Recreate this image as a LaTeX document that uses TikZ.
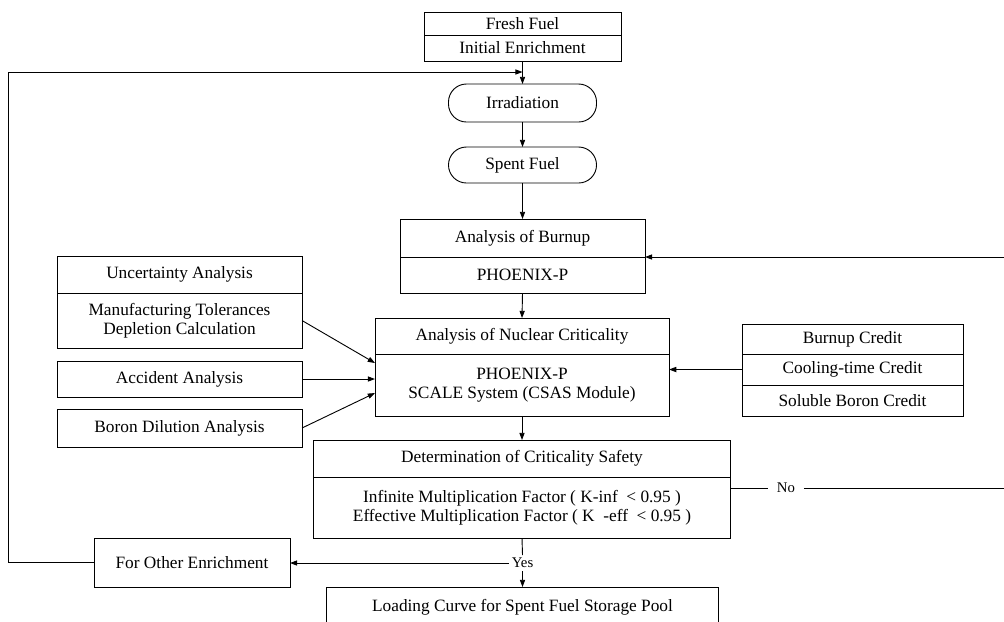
\documentclass[tikz,border=0pt]{standalone}
\usepackage{fontspec}
\setmainfont{Liberation Serif}
\usetikzlibrary{arrows.meta, positioning}

\begin{document}
\begin{tikzpicture}[
  x=0.025cm,
  y=-0.025cm,
  font=\rmfamily\fontsize{12.3}{13.5}\selectfont,
  box/.style={
    draw,
    rectangle,
    align=center,
    inner sep=0pt,
    outer sep=0pt,
    line width=0.65pt
  },
  oval/.style={
    box,
    rounded corners=0.45cm
  },
  arrow/.style={
    -{Triangle[length=0.18cm,width=0.13cm]},
    line width=0.65pt
  },
  line/.style={
    line width=0.65pt
  },
  tag/.style={
    fill=white,
    inner xsep=6pt,
    inner ysep=2pt,
    font=\rmfamily\fontsize{10.5}{12}\selectfont
  }
]
\useasboundingbox (0,0) rectangle (1004,621);

% Nodes
\node[box, minimum width=4.925cm, minimum height=0.575cm] (fresh) at (522.5,23.5) {Fresh Fuel};
\node[box, minimum width=4.925cm, minimum height=0.65cm, below=0pt of fresh] (enrich) {Initial Enrichment};
\node[oval, minimum width=3.7cm, minimum height=0.95cm] (irrad) at (522.5,103) {Irradiation};
\node[oval, minimum width=3.7cm, minimum height=0.9cm] (spent) at (522.5,165) {Spent Fuel};
\node[box, minimum width=6.125cm, minimum height=0.95cm] (burnup) at (522.5,238) {Analysis of Burnup};
\node[box, minimum width=6.125cm, minimum height=0.9cm, below=0pt of burnup] (burnupcode) {PHOENIX-P};
\node[box, minimum width=7.35cm, minimum height=0.9cm] (nuclear) at (522,336) {Analysis of Nuclear Criticality};
\node[box, minimum width=7.35cm, minimum height=1.55cm, below=0pt of nuclear] (nuclearcode) {PHOENIX-P\\SCALE System (CSAS Module)};
\node[box, minimum width=10.4cm, minimum height=0.925cm] (determ) at (522,458.5) {Determination of Criticality Safety};
\node[box, minimum width=10.4cm, minimum height=1.525cm, below=0pt of determ] (determcond) {Infinite Multiplication Factor ( K-inf~~< 0.95 )\\Effective Multiplication Factor ( K~~-eff~~< 0.95 )};
\node[box, minimum width=9.775cm, minimum height=1.0cm] (loading) at (522.5,607) {Loading Curve for Spent Fuel Storage Pool};

\node[box, minimum width=6.125cm, minimum height=0.925cm] (uncert) at (179.5,274.5) {Uncertainty Analysis};
\node[box, minimum width=6.125cm, minimum height=1.375cm, below=0pt of uncert] (uncertdet) {Manufacturing Tolerances\\Depletion Calculation};
\node[box, minimum width=6.125cm, minimum height=0.9cm] (accident) at (179.5,379) {Accident Analysis};
\node[box, minimum width=6.125cm, minimum height=0.95cm] (boron) at (179.5,428) {Boron Dilution Analysis};

\node[box, minimum width=5.525cm, minimum height=0.75cm] (credit1) at (852.5,339) {Burnup Credit};
\node[box, minimum width=5.525cm, minimum height=0.775cm, below=0pt of credit1] (credit2) {Cooling-time Credit};
\node[box, minimum width=5.525cm, minimum height=0.775cm, below=0pt of credit2] (credit3) {Soluble Boron Credit};

\node[box, minimum width=4.9cm, minimum height=1.225cm] (other) at (192,562.5) {For Other Enrichment};

\node[tag, inner xsep=2pt] (yes) at (522.5,563) {Yes};
\node[tag] (no) at (786,488) {No};
\coordinate (merge) at (522.5,72);

% Arrows
\draw[arrow] (enrich.south) -- (irrad.north);
\draw[arrow] (irrad.south) -- (spent.north);
\draw[arrow] (spent.south) -- (burnup.north);
\draw[arrow] (burnupcode.south) -- (nuclear.north);
\draw[arrow] (nuclearcode.south) -- (determ.north);
\draw[line] (determcond.south) -- (yes.north);
\draw[arrow] (yes.south) -- (loading.north);
\draw[arrow] (yes.west) -- (yes.west -| other.east);

\draw[arrow] (uncertdet.east) -- ([yshift=0.55cm]nuclearcode.west);
\draw[arrow] (accident.east) -- (accident.east -| nuclearcode.west);
\draw[arrow] (boron.east) -- ([yshift=-0.2cm]nuclearcode.west);
\draw[arrow] (credit2.west) -- (credit2.west -| nuclearcode.east);

% Loops back
\draw[arrow] (other.west) -- ++(-86,0) |- (merge);
\draw[line] (determcond.east |- no) -- (no.west);
\draw[arrow] (no.east) -- (1012,488) |- (burnupcode.north east);

\end{tikzpicture}
\end{document}
